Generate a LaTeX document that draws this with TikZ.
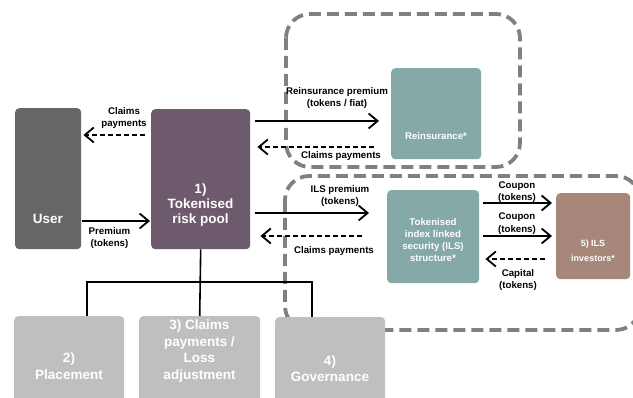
\documentclass[tikz,border=0pt]{standalone}
\usepackage{fontspec}
\setmainfont{Liberation Sans}
\usetikzlibrary{arrows.meta}
\definecolor{usergray}{HTML}{666666}
\definecolor{poolpurple}{HTML}{6E5A6D}
\definecolor{tealbox}{HTML}{84A9A6}
\definecolor{brownbox}{HTML}{A6877A}
\definecolor{lightbox}{HTML}{BFBFBF}
\definecolor{dashgray}{HTML}{808080}
\tikzset{
 box/.style={draw=none, rounded corners=4pt, inner sep=0pt, anchor=north west, rectangle},
 bigtxt/.style={text=white, font=\bfseries\fontsize{13.5}{15}\selectfont, align=center, inner sep=0pt},
 bottxt/.style={text=white, font=\bfseries\fontsize{13.5}{16.5}\selectfont, align=center, inner sep=0pt},
 midtxt/.style={text=white, font=\bfseries\fontsize{9.7}{12}\selectfont, align=center, inner sep=0pt},
 invtxt/.style={text=white, font=\bfseries\fontsize{9}{15}\selectfont, align=center, inner sep=0pt},
 lbl/.style={font=\bfseries\fontsize{9.7}{12.5}\selectfont, align=center, inner sep=0pt},
 flow/.style={line width=1.8pt, -{Straight Barb[length=9pt,width=15pt,line width=1.8pt]}},
 back/.style={flow, dash pattern=on 5pt off 3pt},
 container/.style={draw=dashgray, line width=3.8pt, dash pattern=on 12pt off 6pt, rounded corners=24pt},
 tree/.style={line width=1.6pt},
}
\begin{document}
\begin{tikzpicture}[x=1pt,y=-1pt]
\useasboundingbox (0,0) rectangle (633,398);
\clip (0,0) rectangle (633,398);
% containers
\draw[container] (286,14) rectangle (520,167);
\draw[container] (285,176) rectangle (640,330);
% boxes
\node[box, fill=usergray, minimum width=66pt, minimum height=141pt] (user) at (15,108) {};
\node[box, fill=poolpurple, minimum width=99pt, minimum height=140pt] (pool) at (151,109) {};
\node[box, fill=tealbox, minimum width=90pt, minimum height=91pt] (reins) at (391,68) {};
\node[box, fill=tealbox, minimum width=92pt, minimum height=93pt] (ils) at (387,190) {};
\node[box, fill=brownbox, minimum width=74pt, minimum height=86pt] (inv) at (556,193) {};
\node[box, fill=lightbox, minimum width=110pt, minimum height=100pt] (place) at (14,316) {};
\node[box, fill=lightbox, minimum width=121pt, minimum height=100pt] (claims) at (139,316) {};
\node[box, fill=lightbox, minimum width=110pt, minimum height=100pt] (gov) at (275,317) {};
% box texts
\node[bigtxt] (usert) at (48,219) {User};
\node[bigtxt] (poolt) at (200.5,205) {1)\\Tokenised\\risk pool};
\node[midtxt] (reinst) at (436,136) {Reinsurance*};
\node[midtxt] (ilst) at (433,240) {Tokenised\\index linked\\security (ILS)\\structure*};
\node[invtxt] (invt) at (593,250.5) {5) ILS\\investors*};
\node[bottxt] (placet) at (69,366) {2)\\Placement};
\node[bottxt] (claimst) at (199.5,351) {3) Claims\\payments /\\Loss\\adjustment};
\node[bottxt] (govt) at (330,368.5) {4)\\Governance};
% tree
\coordinate (j) at (200.5,282);
\draw[tree] (pool.south) -- (claims.north);
\draw[tree] ([xshift=18pt]place.north) |- (j) -| ([xshift=-18pt]gov.north);
% arrows user/pool
\draw[back, shorten <=6pt, shorten >=2pt] (pool.west |- 0,135) -- (user.east |- 0,135);
\node[lbl] (l1) at (124,118) {Claims\\payments};
\draw[flow, shorten <=1pt, shorten >=1pt] (user.east |- 0,221) -- (pool.west |- 0,221);
\node[lbl] (l2) at (109.5,238) {Premium\\(tokens)};
% pool/reinsurance
\draw[flow, shorten <=5pt, shorten >=12pt] (pool.east |- 0,121) -- (reins.west |- 0,121);
\node[lbl] (l3) at (337,98) {Reinsurance premium\\(tokens / fiat)};
\draw[back, shorten <=17pt, shorten >=7pt] (reins.west |- 0,147) -- (pool.east |- 0,147);
\node[lbl] (l4) at (341,156) {Claims payments};
% pool/ILS
\draw[flow, shorten <=5pt, shorten >=18pt] (pool.east |- 0,213) -- (ils.west |- 0,213);
\node[lbl] (l5) at (340,196) {ILS premium\\(tokens)};
\draw[back, shorten <=25pt, shorten >=10pt] (ils.west |- 0,236) -- (pool.east |- 0,236);
\node[lbl] (l6) at (334,251) {Claims payments};
% ILS/investors
\draw[flow, shorten <=4pt, shorten >=4pt] (ils.east |- 0,203) -- (inv.west |- 0,203);
\node[lbl] (l7) at (517,192) {Coupon\\(tokens)};
\draw[flow, shorten <=4pt, shorten >=4pt] (ils.east |- 0,236) -- (inv.west |- 0,236);
\node[lbl] (l8) at (517,223.5) {Coupon\\(tokens)};
\draw[back, shorten <=11pt, shorten >=6pt] (inv.west |- 0,259) -- (ils.east |- 0,259);
\node[lbl] (l9) at (518,280) {Capital\\(tokens)};
\end{tikzpicture}
\end{document}
